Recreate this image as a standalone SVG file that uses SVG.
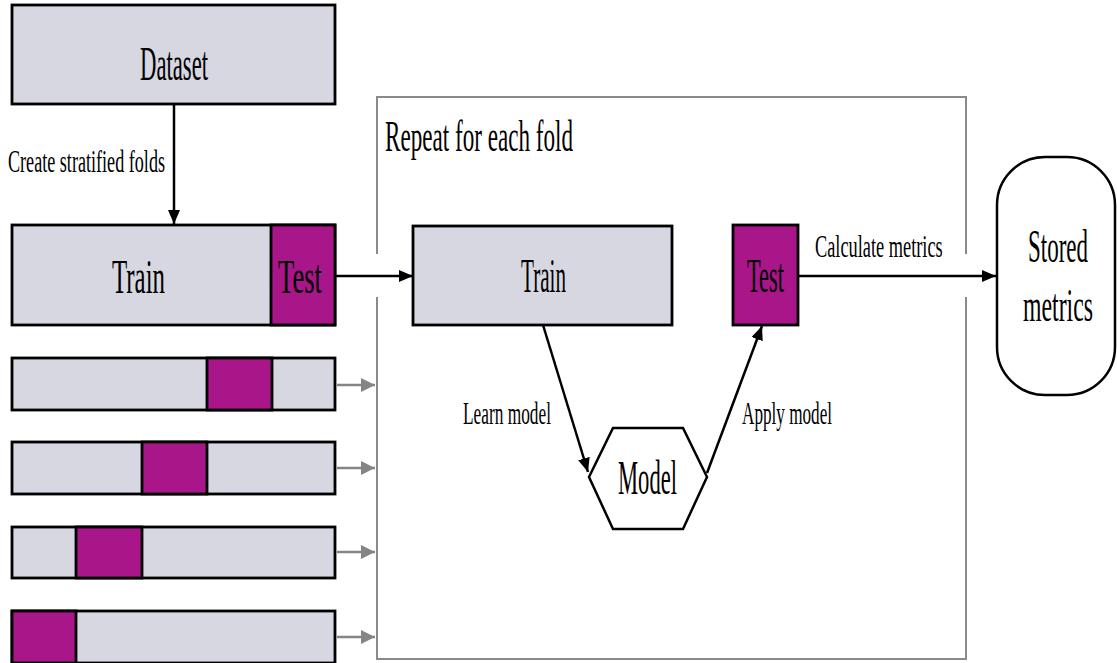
<svg xmlns="http://www.w3.org/2000/svg" width="1117" height="663" viewBox="0 0 1117 663">
<defs>
<marker id="ab" viewBox="0 0 14 12" refX="14" refY="6" markerWidth="14" markerHeight="12" markerUnits="userSpaceOnUse" orient="auto"><path d="M0,0 L14,6 L0,12 Z" fill="#000"/></marker>
<marker id="ag" viewBox="0 0 14 14" refX="14" refY="7" markerWidth="14" markerHeight="14" markerUnits="userSpaceOnUse" orient="auto"><path d="M0,0 L14,7 L0,14 Z" fill="#858585"/></marker>
<style>
.lt{fill:#d6d7e0;stroke:#000;stroke-width:2.8}
.mg{fill:#a8168a;stroke:#000;stroke-width:2.8}
.frame{fill:none;stroke:#8a8a8a;stroke-width:2}
.t{font-family:"Liberation Serif","Times New Roman",serif;fill:#000}
.big{font-size:48px}
.st{font-size:46px}
.mid{font-size:44px}
.sm{font-size:32px}
.c{stroke:#000;stroke-width:2.5;fill:none}
.g{stroke:#858585;stroke-width:2.5;fill:none}
</style>
</defs>
<rect width="1117" height="663" fill="#fff"/>

<g id="frame">
<path class="frame" d="M377,254 L377,97 L966,97 L966,254"/>
<path class="frame" d="M377,297 L377,659 L966,659 L966,297"/>
<text class="t mid" x="385" y="151" textLength="188" lengthAdjust="spacingAndGlyphs">Repeat for each fold</text>
</g>

<g id="dataset">
<rect class="lt" x="12" y="5" width="323" height="99"/>
<text class="t big" x="140" y="80" textLength="68" lengthAdjust="spacingAndGlyphs">Dataset</text>
</g>

<g id="fold1">
<rect class="lt" x="12" y="225" width="323" height="100"/>
<rect class="mg" x="271" y="225" width="64" height="100"/>
<text class="t big" x="112" y="293" textLength="53" lengthAdjust="spacingAndGlyphs">Train</text>
<text class="t big" x="278" y="293" textLength="44" lengthAdjust="spacingAndGlyphs">Test</text>
</g>

<g id="fold2">
<rect class="lt" x="12" y="358" width="323" height="52"/>
<rect class="mg" x="207" y="358" width="65" height="52"/>
</g>
<g id="fold3">
<rect class="lt" x="12" y="442" width="323" height="52"/>
<rect class="mg" x="142" y="442" width="65" height="52"/>
</g>
<g id="fold4">
<rect class="lt" x="12" y="527" width="323" height="51"/>
<rect class="mg" x="76" y="527" width="66" height="51"/>
</g>
<g id="fold5">
<rect class="lt" x="12" y="611" width="323" height="52"/>
<rect class="mg" x="12" y="611" width="64" height="52"/>
</g>

<g id="train">
<rect class="lt" x="413" y="226" width="259" height="99"/>
<text class="t big" x="521" y="292" textLength="45" lengthAdjust="spacingAndGlyphs">Train</text>
</g>

<g id="test">
<rect class="mg" x="733" y="225" width="65" height="100"/>
<text class="t big" x="747" y="292" textLength="37" lengthAdjust="spacingAndGlyphs">Test</text>
</g>

<g id="model">
<polygon points="613,428 683,428 707,477 683,529 613,529 589,477" fill="#fff" stroke="#000" stroke-width="2.5"/>
<text class="t big" x="618" y="494" textLength="59" lengthAdjust="spacingAndGlyphs">Model</text>
</g>

<g id="stored">
<rect x="997" y="157" width="118" height="238" rx="48" ry="48" fill="#fff" stroke="#000" stroke-width="2.5"/>
<text class="t st" transform="translate(1058,262) scale(0.5,1)" x="0" y="0" text-anchor="middle" textLength="120" lengthAdjust="spacingAndGlyphs">Stored</text>
<text class="t st" transform="translate(1058,321) scale(0.5,1)" x="0" y="0" text-anchor="middle" textLength="140" lengthAdjust="spacingAndGlyphs">metrics</text>
</g>

<g id="connectors">
<line class="c" x1="174" y1="104" x2="174" y2="224" marker-end="url(#ab)"/>
<line class="c" x1="335" y1="276" x2="413" y2="276" marker-end="url(#ab)"/>
<line class="c" x1="798" y1="276" x2="996" y2="276" marker-end="url(#ab)"/>
<line class="c" x1="543" y1="325" x2="588" y2="472" marker-end="url(#ab)"/>
<line class="c" x1="707" y1="473" x2="762" y2="326" marker-end="url(#ab)"/>
<line class="g" x1="337" y1="385" x2="375" y2="385" marker-end="url(#ag)"/>
<line class="g" x1="337" y1="468" x2="375" y2="468" marker-end="url(#ag)"/>
<line class="g" x1="337" y1="552" x2="375" y2="552" marker-end="url(#ag)"/>
<line class="g" x1="337" y1="637" x2="375" y2="637" marker-end="url(#ag)"/>
<text class="t sm" x="8" y="172" textLength="157" lengthAdjust="spacingAndGlyphs">Create stratified folds</text>
<text class="t sm" x="463" y="424" textLength="88" lengthAdjust="spacingAndGlyphs">Learn model</text>
<text class="t sm" x="742" y="424" textLength="90" lengthAdjust="spacingAndGlyphs">Apply model</text>
<text class="t sm" transform="translate(815,257) scale(0.57,1)" x="0" y="0" textLength="224" lengthAdjust="spacingAndGlyphs">Calculate metrics</text>
</g>
</svg>
